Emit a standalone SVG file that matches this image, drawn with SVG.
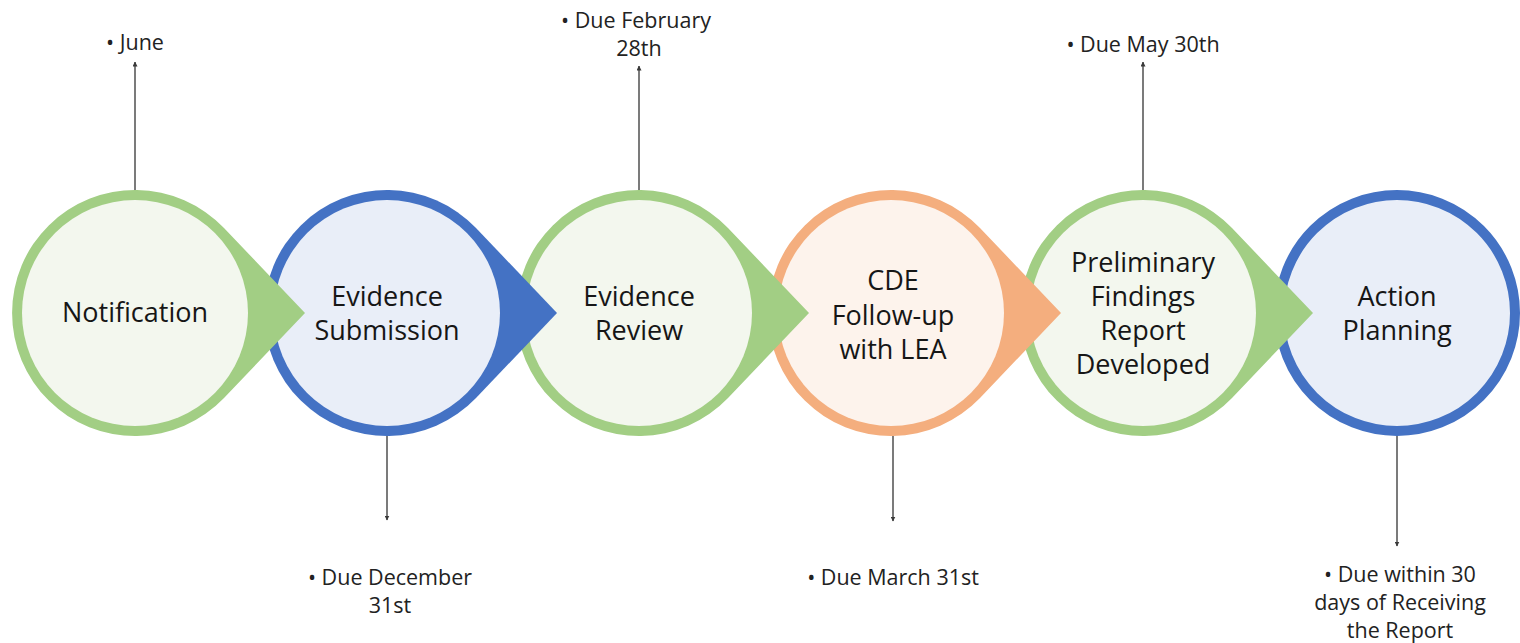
<svg xmlns="http://www.w3.org/2000/svg" width="1520" height="643" viewBox="0 0 1520 643">
<defs>
<style>
.lbl{font-family:"Open Sans","Liberation Sans",sans-serif;font-size:27px;fill:#161616;text-anchor:middle}
.sm{font-family:"Open Sans","Liberation Sans",sans-serif;font-size:21.5px;fill:#222222;text-anchor:middle}
.con{stroke:#5a5a5a;stroke-width:1.6;fill:none;marker-end:url(#ah)}
.g{fill:#A2CE84}.gi{fill:#F3F7EE}
.b{fill:#4472C4}.bi{fill:#E9EEF8}
.o{fill:#F4AE7E}.oi{fill:#FDF3EC}
</style>
<marker id="ah" viewBox="0 0 10 10" refX="9" refY="5" markerWidth="5" markerHeight="5" orient="auto" markerUnits="userSpaceOnUse">
<path d="M0,0 L10,5 L0,10 Z" fill="#3a3a3a"/>
</marker>
</defs>
<rect width="1520" height="643" fill="#ffffff"/>
<g id="connectors">
<line class="con" x1="135" y1="190" x2="135" y2="62"/>
<line class="con" x1="387" y1="436" x2="387" y2="520"/>
<line class="con" x1="639" y1="190" x2="639" y2="66"/>
<line class="con" x1="893" y1="436" x2="893" y2="521"/>
<line class="con" x1="1143" y1="190" x2="1143" y2="62"/>
<line class="con" x1="1397" y1="436" x2="1397" y2="546"/>
</g>
<g id="node6">
<circle cx="1397" cy="313" r="118" fill="#E9EEF8" stroke="#4472C4" stroke-width="10"/>
<text class="lbl" x="1397" y="306">Action</text>
<text class="lbl" x="1397" y="340">Planning</text>
</g>
<g id="node5">
<path class="g" d="M1232,228 A123,123 0 1 0 1232,398 L1313,313 Z"/>
<circle class="gi" cx="1143" cy="313" r="113"/>
<text class="lbl" x="1143" y="272">Preliminary</text>
<text class="lbl" x="1143" y="306">Findings</text>
<text class="lbl" x="1143" y="340">Report</text>
<text class="lbl" x="1143" y="374">Developed</text>
</g>
<g id="node4">
<path class="o" d="M980,228 A123,123 0 1 0 980,398 L1061,313 Z"/>
<circle class="oi" cx="891" cy="313" r="113"/>
<text class="lbl" x="893" y="290">CDE</text>
<text class="lbl" x="893" y="325">Follow-up</text>
<text class="lbl" x="893" y="359">with LEA</text>
</g>
<g id="node3">
<path class="g" d="M728,228 A123,123 0 1 0 728,398 L809,313 Z"/>
<circle class="gi" cx="639" cy="313" r="113"/>
<text class="lbl" x="639" y="306">Evidence</text>
<text class="lbl" x="639" y="340">Review</text>
</g>
<g id="node2">
<path class="b" d="M476,228 A123,123 0 1 0 476,398 L557,313 Z"/>
<circle class="bi" cx="387" cy="313" r="113"/>
<text class="lbl" x="387" y="306">Evidence</text>
<text class="lbl" x="387" y="340">Submission</text>
</g>
<g id="node1">
<path class="g" d="M224,228 A123,123 0 1 0 224,398 L305,313 Z"/>
<circle class="gi" cx="135" cy="313" r="113"/>
<text class="lbl" x="135" y="322">Notification</text>
</g>
<g id="labels">
<text class="sm" x="135" y="50">• June</text>
<text class="sm" x="636" y="28">• Due February</text>
<text class="sm" x="639" y="56">28th</text>
<text class="sm" x="1143" y="52">• Due May 30th</text>
<text class="sm" x="390" y="585">• Due December</text>
<text class="sm" x="390" y="613">31st</text>
<text class="sm" x="893" y="585">• Due March 31st</text>
<text class="sm" x="1400" y="582">• Due within 30</text>
<text class="sm" x="1400" y="610">days of Receiving</text>
<text class="sm" x="1400" y="638">the Report</text>
</g>
</svg>
